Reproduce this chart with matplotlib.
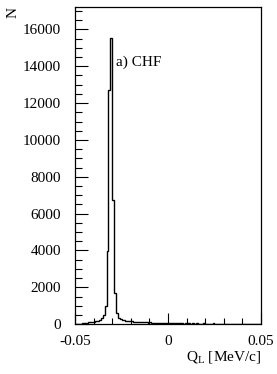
import matplotlib
matplotlib.use("Agg")
import matplotlib.pyplot as plt
from matplotlib.ticker import MultipleLocator
import numpy as np

plt.rcParams['font.family'] = ['Liberation Serif', 'DejaVu Serif']
plt.rcParams['mathtext.fontset'] = 'custom'
plt.rcParams['mathtext.rm'] = 'Liberation Serif'

# histogram: 100 bins of 0.001 MeV/c from -0.05 to 0.05
bin_lo = -0.05
bin_hi = 0.05
counts = [
    0, 0, 0, 20, 60, 80, 80, 100, 100, 120,            # -0.050 .. -0.041
    130, 150, 170, 230, 320, 520, 1000, 3950, 12720, 15530,  # -0.040 .. -0.031
    6740, 1700, 600, 320, 260, 230, 210, 190, 170, 160,  # -0.030 .. -0.021
    150, 140, 130, 140, 120, 110, 120, 100, 110, 90,     # -0.020 .. -0.011
    100, 90, 80, 90, 80, 70, 80, 60, 70, 60,             # -0.010 .. -0.001
    60, 70, 50, 60, 40, 50, 60, 40, 30, 50,              #  0.000 ..  0.009
    40, 50, 30, 40, 20, 40, 30, 0, 30, 40,               #  0.010 ..  0.019
    30, 20, 30, 0, 40, 20, 30, 20, 0, 30,                #  0.020 ..  0.029
    20, 30, 0, 20, 30, 0, 20, 30, 20, 0,                 #  0.030 ..  0.039
    20, 0, 20, 30, 0, 20, 0, 20, 10, 0,                  #  0.040 ..  0.049
]
label = "a) CHF"

edges = np.linspace(bin_lo, bin_hi, len(counts) + 1)

fig = plt.figure(figsize=(2.77, 3.74), dpi=100)
ax = fig.add_axes([0.2708, 0.1332, 0.6714, 0.8488])

ax.stairs(counts, edges, color='black', linewidth=1.0)

ax.set_xlim(bin_lo, bin_hi)
ax.set_ylim(0, 17230)

ax.xaxis.set_major_locator(MultipleLocator(0.05))
ax.xaxis.set_minor_locator(MultipleLocator(0.01))
ax.yaxis.set_major_locator(MultipleLocator(2000))
ax.yaxis.set_minor_locator(MultipleLocator(500))
# plain hyphen for the minus sign, like the original
ax.xaxis.set_major_formatter(matplotlib.ticker.FuncFormatter(
    lambda v, p: "0" if abs(v) < 1e-9 else "%g" % v))

ax.tick_params(which='both', direction='in', top=False, right=False,
               labelsize=11, width=0.8)
ax.tick_params(axis='y', which='major', length=9, pad=10)
ax.tick_params(axis='y', which='minor', length=5)
ax.tick_params(axis='x', which='major', length=8, pad=7.5)
ax.tick_params(axis='x', which='minor', length=4.5)

for s in ax.spines.values():
    s.set_linewidth(0.9)

fig.text(0.419, 0.834, label, fontsize=11, ha='left', va='center')
fig.text(13 / 277, 1 - 13 / 374, "N", fontsize=11, rotation=90,
         ha='center', va='center')
fig.text(0.942, 0.044, r"Q$_\mathrm{L}$ [MeV/c]", fontsize=11,
         ha='right', va='center')

fig.savefig("out.png", dpi=100)
